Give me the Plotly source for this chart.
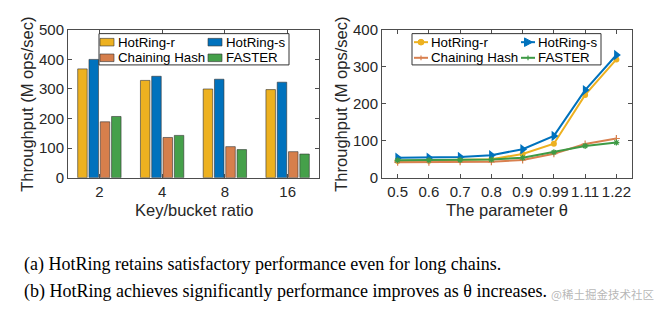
import plotly.graph_objects as go

W, H = 662, 325

# ---------------- data ----------------
ratio_cats = ["2", "4", "8", "16"]
bar_hotring_r = [368, 329, 300, 298]
bar_hotring_s = [400, 343, 333, 323]
bar_chaining = [189, 136, 105, 88]
bar_faster = [207, 143, 95, 80]

theta_cats = ["0.5", "0.6", "0.7", "0.8", "0.9", "0.99", "1.11", "1.22"]
line_hotring_r = [45, 46, 47, 50, 64, 92, 224, 320]
line_hotring_s = [54, 54, 56, 61, 77, 113, 237, 332]
line_chaining = [42, 42, 43, 43, 48, 65, 91, 106]
line_faster = [47, 47, 48, 49, 54, 69, 86, 95]

series_names = ["HotRing-r", "HotRing-s", "Chaining Hash", "FASTER"]
left_xtitle = "Key/bucket ratio"
right_xtitle = "The parameter θ"
ytitle = "Throughput (M ops/sec)"
caption_a = "(a) HotRing retains satisfactory performance even for long chains."
caption_b = "(b) HotRing achieves significantly performance improves as θ increases."
watermark = "@稀土掘金技术社区"

# ---------------- style ----------------
bar_colors = ["#EDB120", "#0072BD", "#D67F4C", "#45A04A"]
line_colors = ["#EDB120", "#0072BD", "#D9804F", "#3E9A45"]
FONT = "Liberation Sans, Arial, sans-serif"
AX = "#4d4d4d"
TXT = "#262626"


def px_x(p):
    return p / W


def px_y(p):
    return 1 - p / H


fig = go.Figure()

# ---- left: grouped bars ----
bar_vals = [bar_hotring_r, bar_hotring_s, bar_chaining, bar_faster]
for name, vals, col in zip(series_names, bar_vals, bar_colors):
    fig.add_trace(go.Bar(
        x=ratio_cats, y=vals, name=name, xaxis="x", yaxis="y",
        marker=dict(color=col, line=dict(color="#333333", width=0.6)),
        showlegend=False,
    ))

# ---- right: lines ----
line_vals = [line_hotring_r, line_hotring_s, line_chaining, line_faster]
markers = [
    dict(symbol="circle", size=6),
    dict(symbol="triangle-right", size=9),
    dict(symbol="cross-thin", size=5, line=dict(width=1.2, color=line_colors[2])),
    dict(symbol="asterisk", size=5, line=dict(width=1.2, color=line_colors[3])),
]
for name, vals, col, mk in zip(series_names, line_vals, line_colors, markers):
    m = dict(mk)
    m["color"] = col
    fig.add_trace(go.Scatter(
        x=theta_cats, y=vals, name=name, xaxis="x2", yaxis="y2",
        mode="lines+markers", line=dict(color=col, width=2), marker=m,
        showlegend=False,
    ))

axis_common = dict(
    showline=True, linecolor=AX, linewidth=1, mirror="allticks",
    ticks="inside", ticklen=4, tickcolor=AX, showgrid=False, zeroline=False,
    tickfont=dict(family=FONT, size=15, color=TXT),
)

fig.update_layout(
    width=W, height=H,
    margin=dict(l=0, r=0, t=0, b=0),
    paper_bgcolor="white", plot_bgcolor="white",
    barmode="group", bargap=0.28, bargroupgap=0.16,
    showlegend=False,
    xaxis=dict(domain=[px_x(68), px_x(319)], anchor="y", type="category",
               range=[-0.5, 3.5], **axis_common),
    yaxis=dict(domain=[px_y(178), px_y(22)], anchor="x", range=[0, 500],
               tickvals=[0, 100, 200, 300, 400, 500], **axis_common),
    xaxis2=dict(domain=[px_x(382), px_x(632)], anchor="y2", type="category",
                range=[-0.5, 7.5], **axis_common),
    yaxis2=dict(domain=[px_y(178), px_y(22)], anchor="x2", range=[0, 400],
                tickvals=[0, 100, 200, 300, 400], **axis_common),
)

# ---- axis titles ----
tfont = dict(family=FONT, size=16.5, color=TXT)
for txt, x, y, ang in [(left_xtitle, 193.5, 212, 0), (right_xtitle, 507, 212, 0),
                       (ytitle, 27, 101, -90), (ytitle, 341, 101, -90)]:
    fig.add_annotation(text=txt, xref="paper", yref="paper", x=px_x(x), y=px_y(y),
                       xanchor="center", yanchor="middle", showarrow=False,
                       textangle=ang, font=tfont)

# ---- legends (MATLAB-style, two columns, boxed) ----
lfont = dict(family=FONT, size=13.3, color="#000")
rows = [35, 51.5]


def legend_box(x0, x1):
    fig.add_shape(type="rect", xref="paper", yref="paper", layer="above",
                  x0=px_x(x0), x1=px_x(x1), y0=px_y(59), y1=px_y(26),
                  line=dict(color="#333", width=1), fillcolor="white")


legend_box(99, 289)
legend_box(412, 601)

# bar legend: columns at swatch-left 100 and 208
bar_cols = [100, 208]
for i, (name, col) in enumerate(zip(series_names, bar_colors)):
    cx = bar_cols[i % 2]
    cy = rows[i // 2]
    fig.add_shape(type="rect", xref="paper", yref="paper", layer="above",
                  x0=px_x(cx), x1=px_x(cx + 14), y0=px_y(cy + 4), y1=px_y(cy - 4),
                  line=dict(color="#333", width=0.6), fillcolor=col)
    fig.add_annotation(text=name, xref="paper", yref="paper", x=px_x(cx + 16),
                       y=px_y(cy), xanchor="left", yanchor="middle",
                       showarrow=False, font=lfont)

# line legend: columns at sample-left 414 and 521
line_cols = [414, 521]
for i, (name, col) in enumerate(zip(series_names, line_colors)):
    lx = line_cols[i % 2]
    cy = rows[i // 2]
    mx = lx + 7
    fig.add_shape(type="line", xref="paper", yref="paper", layer="above",
                  x0=px_x(lx), x1=px_x(lx + 14), y0=px_y(cy), y1=px_y(cy),
                  line=dict(color=col, width=2))
    if i == 0:
        fig.add_shape(type="circle", xref="paper", yref="paper", layer="above",
                      x0=px_x(mx - 3), x1=px_x(mx + 3), y0=px_y(cy + 3), y1=px_y(cy - 3),
                      line=dict(color=col, width=1), fillcolor=col)
    elif i == 1:
        path = "M {:.5f} {:.5f} L {:.5f} {:.5f} L {:.5f} {:.5f} Z".format(
            px_x(mx - 3.5), px_y(cy - 4.5), px_x(mx + 4.5), px_y(cy),
            px_x(mx - 3.5), px_y(cy + 4.5))
        fig.add_shape(type="path", xref="paper", yref="paper", layer="above",
                      path=path, line=dict(color=col, width=1), fillcolor=col)
    else:
        fig.add_shape(type="line", xref="paper", yref="paper", layer="above",
                      x0=px_x(mx), x1=px_x(mx), y0=px_y(cy - 2.5), y1=px_y(cy + 2.5),
                      line=dict(color=col, width=1.2))
    fig.add_annotation(text=name, xref="paper", yref="paper", x=px_x(lx + 15),
                       y=px_y(cy), xanchor="left", yanchor="middle",
                       showarrow=False, font=lfont)

# ---- captions ----
cap_font = dict(family="Liberation Serif, Times New Roman, serif", size=18, color="#000")
fig.add_annotation(text=caption_a, xref="paper", yref="paper", x=px_x(22), y=px_y(270),
                   xanchor="left", yanchor="middle", showarrow=False, font=cap_font)
fig.add_annotation(text=caption_b, xref="paper", yref="paper", x=px_x(22), y=px_y(298),
                   xanchor="left", yanchor="middle", showarrow=False, font=cap_font)
fig.add_annotation(text=watermark, xref="paper", yref="paper", x=px_x(656), y=px_y(301),
                   xanchor="right", yanchor="middle", showarrow=False,
                   font=dict(family="Noto Sans CJK SC", size=11.5, color="rgba(150,150,150,0.7)"))

fig.write_html("out.html")
